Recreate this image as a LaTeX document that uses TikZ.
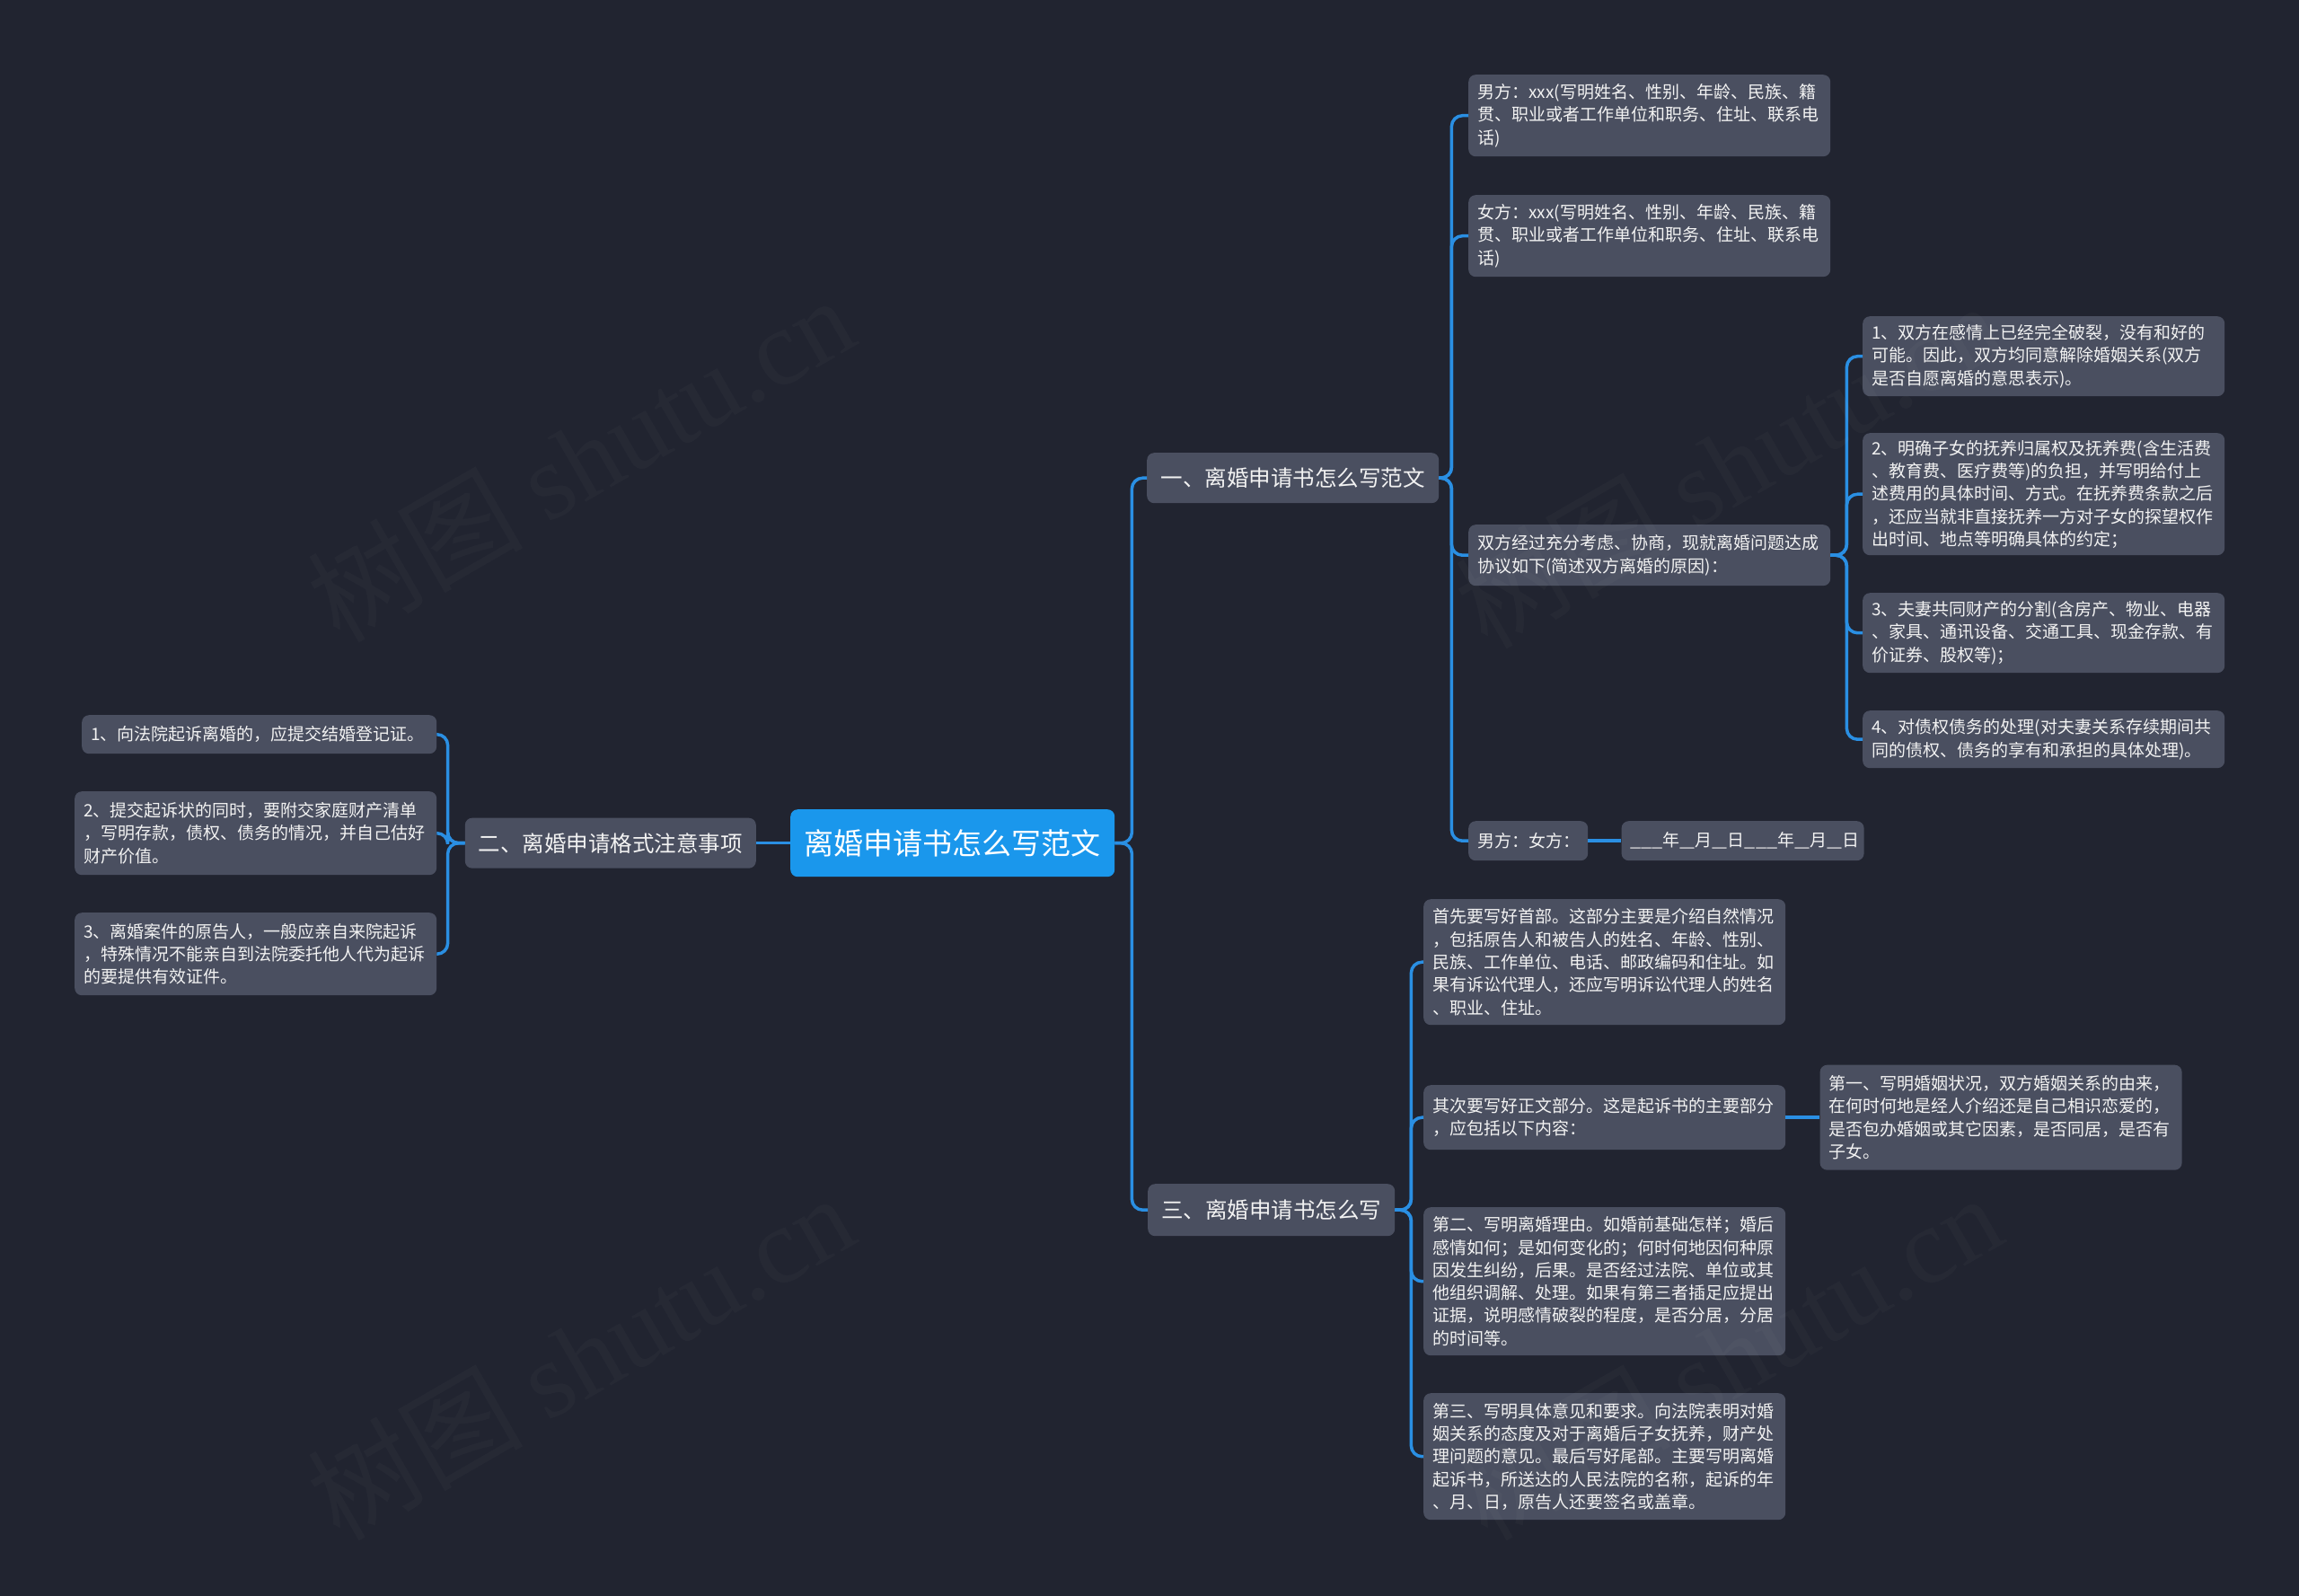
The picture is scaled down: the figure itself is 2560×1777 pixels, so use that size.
\documentclass[tikz,border=0pt]{standalone}
\usepackage{fontspec}
\setmainfont{Noto Sans CJK SC}
\newfontfamily\markfont{Liberation Serif}
\usetikzlibrary{positioning}

\definecolor{bgcol}{HTML}{212430}
\definecolor{boxcol}{HTML}{4A4F60}
\definecolor{rootcol}{HTML}{1A97EC}
\definecolor{linkcol}{HTML}{2A8FE3}
\definecolor{textcol}{HTML}{F2F2F2}
% blanks of the date line
\newcommand{\us}{\scalebox{1.6}[1]{\string_}}
\newcommand{\uss}{\scalebox{1.14}[1]{\string_\string_\string_}}

\tikzset{
  box/.style={fill=boxcol, rounded corners=8pt, text=textcol,
    inner xsep=10pt, inner ysep=0pt, anchor=north west},
  leaf/.style={box, align=left, text width=383pt,
    font=\fontsize{19}{25.3}\selectfont},
  branch/.style={box, inner xsep=15pt, align=center,
    font=\fontsize{24.5}{30}\selectfont},
  rootnode/.style={box, fill=rootcol, text=white, align=center,
    font=\fontsize{33}{40}\selectfont},
  link/.style={draw=linkcol, line width=3.5pt, rounded corners=12pt},
  wmark/.style={text=white, text opacity=0.022, rotate=30,
    font=\fontsize{120}{120}\selectfont}
}

\begin{document}
\begin{tikzpicture}[x=1pt, y=-1pt]
\fill[bgcol] (0,0) rectangle (2560,1777);

% centre and the three branches
\node[rootnode, minimum width=361pt, minimum height=75pt] (root) at (880,901)
  {离婚申请书怎么写范文};
\node[branch, minimum width=325pt, minimum height=56pt] (one) at (1277,504)
  {一、离婚申请书怎么写范文};
\node[branch, minimum width=319pt, minimum height=56pt,
  left=38pt of root] (two) {二、离婚申请格式注意事项};
\node[branch, minimum width=271pt, minimum height=58pt] (three) at (1278,1318)
  {三、离婚申请书怎么写};

% branch one
\node[leaf, minimum height=91pt] (man) at (1635,83)
  {男方：xxx(写明姓名、性别、年龄、民族、籍\\贯、职业或者工作单位和职务、住址、联系电\\话)};
\node[leaf, minimum height=91pt] (woman) at (1635,217)
  {女方：xxx(写明姓名、性别、年龄、民族、籍\\贯、职业或者工作单位和职务、住址、联系电\\话)};
\node[leaf, minimum height=68pt] (agree) at (1635,584)
  {双方经过充分考虑、协商，现就离婚问题达成\\协议如下(简述双方离婚的原因)：};
\node[leaf, text width=113pt, minimum height=44pt] (sign) at (1635,914)
  {男方：女方：};
\node[leaf, text width=250pt, minimum height=44pt,
  right=37pt of sign] (date)
  {\uss 年\us 月\us 日\uss 年\us 月\us 日};

% the four points of the agreement
\node[leaf, minimum height=89pt] (pta) at (2074,352)
  {1、双方在感情上已经完全破裂，没有和好的\\可能。因此，双方均同意解除婚姻关系(双方\\是否自愿离婚的意思表示)。};
\node[leaf, minimum height=136pt] (ptb) at (2074,482)
  {2、明确子女的抚养归属权及抚养费(含生活费\\、教育费、医疗费等)的负担，并写明给付上\\述费用的具体时间、方式。在抚养费条款之后\\，还应当就非直接抚养一方对子女的探望权作\\出时间、地点等明确具体的约定；};
\node[leaf, minimum height=89pt] (ptc) at (2074,660)
  {3、夫妻共同财产的分割(含房产、物业、电器\\、家具、通讯设备、交通工具、现金存款、有\\价证券、股权等)；};
\node[leaf, minimum height=64pt] (ptd) at (2074,791)
  {4、对债权债务的处理(对夫妻关系存续期间共\\同的债权、债务的享有和承担的具体处理)。};

% branch two
\node[leaf, text width=375pt, minimum height=43pt] (notea) at (91,796)
  {1、向法院起诉离婚的，应提交结婚登记证。};
\node[leaf, minimum height=93pt] (noteb) at (83,881)
  {2、提交起诉状的同时，要附交家庭财产清单\\，写明存款，债权、债务的情况，并自己估好\\财产价值。};
\node[leaf, minimum height=92pt] (notec) at (83,1016)
  {3、离婚案件的原告人，一般应亲自来院起诉\\，特殊情况不能亲自到法院委托他人代为起诉\\的要提供有效证件。};

% branch three
\node[leaf, minimum height=140pt] (head) at (1585,1001)
  {首先要写好首部。这部分主要是介绍自然情况\\，包括原告人和被告人的姓名、年龄、性别、\\民族、工作单位、电话、邮政编码和住址。如\\果有诉讼代理人，还应写明诉讼代理人的姓名\\、职业、住址。};
\node[leaf, minimum height=72pt] (body) at (1585,1208)
  {其次要写好正文部分。这是起诉书的主要部分\\，应包括以下内容：};
\node[leaf, minimum height=117pt, right=38pt of body] (first)
  {第一、写明婚姻状况，双方婚姻关系的由来，\\在何时何地是经人介绍还是自己相识恋爱的，\\是否包办婚姻或其它因素，是否同居，是否有\\子女。};
\node[leaf, minimum height=165pt] (second) at (1585,1344)
  {第二、写明离婚理由。如婚前基础怎样；婚后\\感情如何；是如何变化的；何时何地因何种原\\因发生纠纷，后果。是否经过法院、单位或其\\他组织调解、处理。如果有第三者插足应提出\\证据，说明感情破裂的程度，是否分居，分居\\的时间等。};
\node[leaf, minimum height=141pt] (third) at (1585,1551)
  {第三、写明具体意见和要求。向法院表明对婚\\姻关系的态度及对于离婚后子女抚养，财产处\\理问题的意见。最后写好尾部。主要写明离婚\\起诉书，所送达的人民法院的名称，起诉的年\\、月、日，原告人还要签名或盖章。};

% connectors
\draw[link] (root.west) -- (two.east);
\draw[link] (root.east) -- ++(19,0) |- (one.west);
\draw[link] (root.east) -- ++(19,0) |- (three.west);

\draw[link] (one.east) -- ++(14,0) |- (man.west);
\draw[link] (one.east) -- ++(14,0) |- (woman.west);
\draw[link] (one.east) -- ++(14,0) |- (agree.west);
\draw[link] (one.east) -- ++(14,0) |- (sign.west);
\draw[link] (sign.east) -- (date.west);

\draw[link] (agree.east) -- ++(18,0) |- (pta.west);
\draw[link] (agree.east) -- ++(18,0) |- (ptb.west);
\draw[link] (agree.east) -- ++(18,0) |- (ptc.west);
\draw[link] (agree.east) -- ++(18,0) |- (ptd.west);

\draw[link] (two.west) -- ++(-19,0) |- (notea.east);
\draw[link] (two.west) -- ++(-19,0) |- (noteb.east);
\draw[link] (two.west) -- ++(-19,0) |- (notec.east);

\draw[link] (three.east) -- ++(18,0) |- (head.west);
\draw[link] (three.east) -- ++(18,0) |- (body.west);
\draw[link] (three.east) -- ++(18,0) |- (second.west);
\draw[link] (three.east) -- ++(18,0) |- (third.west);
\draw[link] (body.east) -- (first.west);

% faint marks
\node[wmark] (marka) at (646,510) {树图 {\markfont shutu.cn}};
\node[wmark] (markb) at (646,1510) {树图 {\markfont shutu.cn}};
\node[wmark] (markc) at (1924,517) {树图 {\markfont shutu.cn}};
\node[wmark] (markd) at (1924,1510) {树图 {\markfont shutu.cn}};
\end{tikzpicture}
\end{document}
